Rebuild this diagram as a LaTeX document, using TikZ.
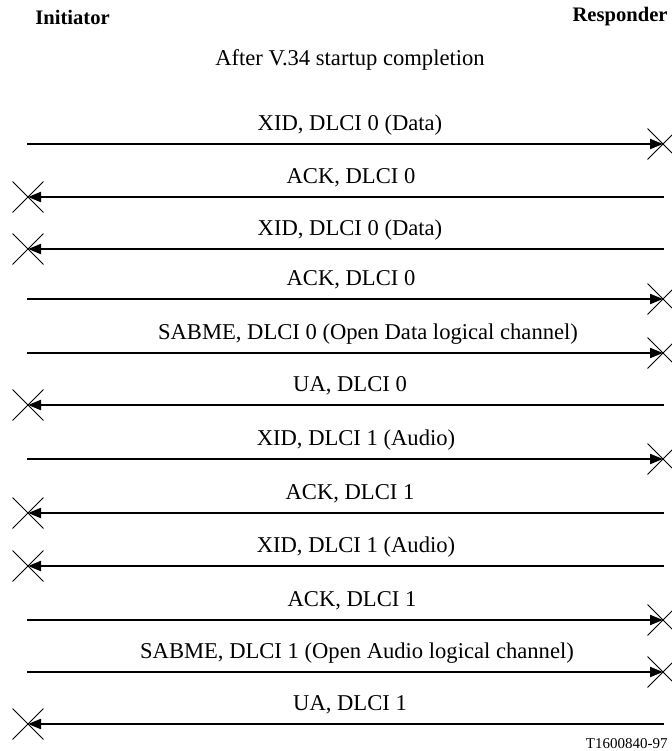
\documentclass[tikz,border=0pt]{standalone}
\usepackage{fontspec}
\setmainfont{Liberation Serif}
\usetikzlibrary{arrows.meta}
\begin{document}
\begin{tikzpicture}[x=0.5pt,y=-0.5pt,
  msg/.style={line width=1pt,-{Triangle[length=6.5pt,width=5pt]}},
  lbl/.style={font=\fontsize{11.3}{13}\selectfont,inner sep=0pt},
  hdr/.style={font=\fontsize{10.3}{12}\selectfont\bfseries,inner sep=0pt},
  crossmark/.style={draw=none,minimum size=15pt,inner sep=0pt},
  xline/.style={line width=0.5pt}]
\useasboundingbox (0,0) rectangle (672,751);
\node[hdr,anchor=west] (init) at (35,17) {Initiator};
\node[hdr,anchor=east] (resp) at (668,17) {Responder};
\node[lbl] (after) at (350,60) {After V.34 startup completion};
\foreach \i/\y/\d/\cx/\t in {
  1/144/r/350/{XID, DLCI 0 (Data)},
  2/197/l/351/{ACK, DLCI 0},
  3/249/l/350/{XID, DLCI 0 (Data)},
  4/299/r/351/{ACK, DLCI 0},
  5/353/r/368/{SABME, DLCI 0 (Open Data logical channel)},
  6/405/l/350/{UA, DLCI 0},
  7/459/r/356/{XID, DLCI 1 (Audio)},
  8/513/l/350/{ACK, DLCI 1},
  9/566/l/356/{XID, DLCI 1 (Audio)},
  10/620/r/352/{ACK, DLCI 1},
  11/672/r/357/{SABME, DLCI 1 (Open Audio logical channel)},
  12/724/l/350/{UA, DLCI 1}} {
  \coordinate (L\i) at (27,\y);
  \coordinate (R\i) at (664,\y);
  \node[crossmark] (XL\i) at (28,\y) {};
  \node[crossmark] (XR\i) at (663,\y) {};
  \node[lbl] (T\i) at (\cx,\y-19) {\t};
  \if\d r
    \draw[msg] (L\i) -- (XR\i.center);
    \draw[xline] (XR\i.north west) -- (XR\i.south east);
    \draw[xline] (XR\i.south west) -- (XR\i.north east);
  \else
    \draw[msg] (R\i) -- (XL\i.center);
    \draw[xline] (XL\i.north west) -- (XL\i.south east);
    \draw[xline] (XL\i.south west) -- (XL\i.north east);
  \fi
}
\node[font=\fontsize{7.5}{9}\selectfont,anchor=east,inner sep=0pt] (code) at (668,744) {T1600840-97};
\end{tikzpicture}
\end{document}
